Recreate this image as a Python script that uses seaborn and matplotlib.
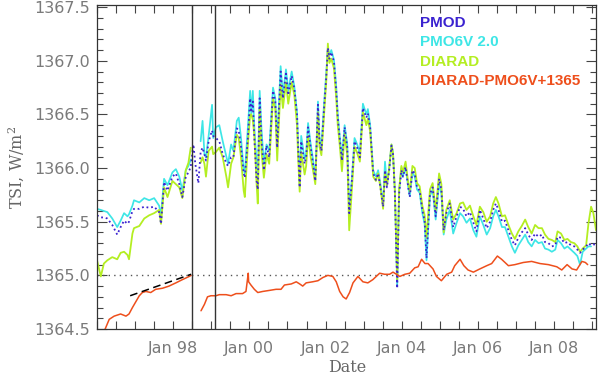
"""TSI composite comparison: PMOD, PMO6V, DIARAD and their difference."""

import matplotlib

matplotlib.use("Agg")
import matplotlib.pyplot as plt
import numpy as np
import pandas as pd
import seaborn as sns
from matplotlib.ticker import FuncFormatter, MultipleLocator

nan = np.nan

# common time grid (decimal years) for the three TSI records
years = [
    1996.00, 1996.10, 1996.18, 1996.27, 1996.40, 1996.53, 1996.62, 1996.71,
    1996.80, 1996.84, 1996.93, 1996.97, 1997.11, 1997.24, 1997.37, 1997.50,
    1997.63, 1997.68, 1997.76, 1997.85, 1997.98, 1998.07, 1998.16, 1998.24,
    1998.33, 1998.40, 1998.46, 1998.53, 1998.58, 1998.62, 1998.66, 1998.72,
    1998.77, 1998.82, 1998.86, 1998.93, 1999.02, 1999.05, 1999.12, 1999.21,
    1999.30, 1999.40, 1999.44, 1999.52, 1999.58, 1999.67, 1999.72, 1999.78,
    1999.85, 1999.88, 1999.96, 2000.02, 2000.05, 2000.09, 2000.13, 2000.19,
    2000.22, 2000.27, 2000.32, 2000.38, 2000.45, 2000.52, 2000.62, 2000.68,
    2000.73, 2000.82, 2000.88, 2000.96, 2001.02, 2001.11, 2001.18, 2001.25,
    2001.28, 2001.32, 2001.36, 2001.45, 2001.49, 2001.54, 2001.61, 2001.67,
    2001.73, 2001.80, 2001.84, 2001.89, 2001.96, 2002.02, 2002.06, 2002.10,
    2002.15, 2002.22, 2002.28, 2002.32, 2002.37, 2002.43, 2002.50, 2002.57,
    2002.62, 2002.69, 2002.76, 2002.83, 2002.90, 2002.98, 2003.07, 2003.11,
    2003.17, 2003.25, 2003.32, 2003.38, 2003.44, 2003.51, 2003.56, 2003.61,
    2003.67, 2003.73, 2003.77, 2003.82, 2003.88, 2003.93, 2003.99, 2004.03,
    2004.10, 2004.17, 2004.21, 2004.28, 2004.34, 2004.40, 2004.47, 2004.54,
    2004.60, 2004.65, 2004.74, 2004.81, 2004.89, 2004.98, 2005.04, 2005.10,
    2005.17, 2005.26, 2005.35, 2005.44, 2005.53, 2005.61, 2005.70, 2005.79,
    2005.88, 2005.96, 2006.05, 2006.14, 2006.23, 2006.32, 2006.40, 2006.47,
    2006.54, 2006.63, 2006.71, 2006.80, 2006.89, 2006.97, 2007.06, 2007.15,
    2007.24, 2007.32, 2007.41, 2007.50, 2007.59, 2007.68, 2007.76, 2007.85,
    2007.94, 2008.03, 2008.09, 2008.18, 2008.27, 2008.35, 2008.44, 2008.53,
    2008.61, 2008.68, 2008.75, 2008.84, 2008.90, 2008.97, 2009.03, 2009.10,
]

pmod = [
    1365.56, 1365.54, 1365.54, 1365.53, 1365.47, 1365.38, 1365.45, 1365.51,
    1365.48, 1365.50, 1365.60, 1365.62, 1365.62, 1365.64, 1365.63, 1365.64,
    1365.59, 1365.48, 1365.87, 1365.79, 1365.92, 1365.95, 1365.85, 1365.73,
    1365.92, 1365.96, 1366.01, 1366.22, 1366.04, 1365.95, 1365.86, 1366.15,
    1366.19, 1366.13, 1366.07, 1366.25, 1366.35, 1366.30, 1366.28, 1366.25,
    1366.13, 1366.04, 1366.02, 1366.10, 1366.10, 1366.37, 1366.35, 1366.20,
    1365.95, 1365.91, 1366.28, 1366.65, 1366.52, 1366.62, 1366.28, 1365.88,
    1365.80, 1366.65, 1366.25, 1365.98, 1366.21, 1366.10, 1366.72, 1366.62,
    1366.19, 1366.90, 1366.65, 1366.88, 1366.68, 1366.86, 1366.74, 1366.50,
    1366.19, 1365.82, 1366.25, 1366.04, 1366.10, 1366.38, 1366.19, 1366.04,
    1365.88, 1366.59, 1366.25, 1366.16, 1366.56, 1366.86, 1367.12, 1367.02,
    1367.08, 1366.99, 1366.72, 1366.47, 1366.28, 1366.07, 1366.38, 1366.19,
    1365.58, 1365.88, 1366.25, 1366.19, 1366.10, 1366.56, 1366.47, 1366.51,
    1366.38, 1365.95, 1365.89, 1365.95, 1365.82, 1365.64, 1365.98, 1365.82,
    1365.98, 1366.21, 1366.13, 1365.76, 1364.88, 1365.76, 1365.98, 1365.92,
    1366.01, 1365.82, 1365.73, 1365.98, 1365.95, 1365.82, 1365.79, 1365.61,
    1365.51, 1365.16, 1365.76, 1365.82, 1365.55, 1365.90, 1365.80, 1365.42,
    1365.58, 1365.67, 1365.45, 1365.55, 1365.64, 1365.62, 1365.55, 1365.59,
    1365.49, 1365.41, 1365.61, 1365.53, 1365.44, 1365.50, 1365.61, 1365.67,
    1365.61, 1365.50, 1365.51, 1365.42, 1365.33, 1365.28, 1365.35, 1365.40,
    1365.44, 1365.38, 1365.33, 1365.39, 1365.36, 1365.38, 1365.31, 1365.30,
    1365.27, 1365.28, 1365.36, 1365.35, 1365.30, 1365.31, 1365.28, 1365.27,
    1365.24, 1365.21, 1365.24, 1365.27, 1365.30, 1365.28, 1365.29, 1365.28,
]

pmo6v = [
    1365.62, 1365.61, 1365.60, 1365.59, 1365.53, 1365.45, 1365.51, 1365.58,
    1365.55, 1365.57, 1365.65, 1365.70, 1365.68, 1365.72, 1365.70, 1365.72,
    1365.65, 1365.56, 1365.90, 1365.84, 1365.96, 1365.99, 1365.92, 1365.79,
    1365.98, 1366.02, 1366.08, nan, nan, nan, nan, 1366.25,
    1366.44, 1366.13, 1366.10, 1366.30, 1366.59, 1366.28, 1366.38, 1366.40,
    1366.25, 1366.10, 1366.04, 1366.22, 1366.16, 1366.44, 1366.47, 1366.28,
    1365.98, 1365.95, 1366.38, 1366.72, 1366.50, 1366.72, 1366.38, 1366.04,
    1365.91, 1366.72, 1366.35, 1366.04, 1366.22, 1366.16, 1366.75, 1366.65,
    1366.25, 1366.95, 1366.68, 1366.92, 1366.72, 1366.90, 1366.76, 1366.52,
    1366.22, 1365.85, 1366.30, 1366.08, 1366.14, 1366.42, 1366.22, 1366.08,
    1365.90, 1366.62, 1366.28, 1366.20, 1366.60, 1366.90, 1367.12, 1367.05,
    1367.10, 1367.01, 1366.76, 1366.50, 1366.30, 1366.10, 1366.40, 1366.22,
    1365.60, 1365.90, 1366.28, 1366.22, 1366.14, 1366.60, 1366.50, 1366.55,
    1366.40, 1365.98, 1365.92, 1365.98, 1365.85, 1365.66, 1366.06, 1365.84,
    1366.00, 1366.22, 1366.14, 1365.78, 1364.90, 1365.78, 1366.00, 1365.92,
    1366.02, 1365.82, 1365.74, 1365.96, 1365.92, 1365.80, 1365.77, 1365.58,
    1365.48, 1365.14, 1365.74, 1365.80, 1365.52, 1365.86, 1365.76, 1365.38,
    1365.52, 1365.61, 1365.39, 1365.49, 1365.58, 1365.55, 1365.49, 1365.53,
    1365.42, 1365.36, 1365.55, 1365.47, 1365.38, 1365.44, 1365.55, 1365.61,
    1365.55, 1365.45, 1365.45, 1365.36, 1365.27, 1365.21, 1365.28, 1365.33,
    1365.38, 1365.31, 1365.27, 1365.33, 1365.30, 1365.31, 1365.25, 1365.24,
    1365.22, 1365.24, 1365.33, 1365.30, 1365.25, 1365.27, 1365.24, 1365.21,
    1365.18, 1365.10, 1365.22, 1365.25, 1365.27, 1365.27, nan, nan,
]

diarad = [
    1365.14, 1364.99, 1365.11, 1365.14, 1365.17, 1365.15, 1365.21, 1365.22,
    1365.19, 1365.15, 1365.39, 1365.44, 1365.46, 1365.53, 1365.56, 1365.58,
    1365.61, 1365.48, 1365.82, 1365.73, 1365.88, 1365.85, 1365.82, 1365.72,
    1365.98, 1366.05, 1366.19, nan, nan, nan, nan, 1366.05,
    1366.10, 1366.04, 1365.92, 1366.16, 1366.20, 1366.13, 1366.15, 1366.19,
    1366.10, 1365.91, 1365.82, 1366.04, 1366.10, 1366.31, 1366.28, 1366.10,
    1365.79, 1365.73, 1366.22, 1366.50, 1366.50, 1366.45, 1366.30, 1365.85,
    1365.67, 1366.55, 1366.15, 1365.91, 1366.13, 1366.04, 1366.65, 1366.55,
    1366.07, 1366.78, 1366.56, 1366.80, 1366.60, 1366.80, 1366.68, 1366.40,
    1366.10, 1365.78, 1366.15, 1365.94, 1366.02, 1366.30, 1366.10, 1365.98,
    1365.85, 1366.52, 1366.20, 1366.12, 1366.50, 1366.82, 1367.16, 1366.98,
    1367.02, 1366.93, 1366.65, 1366.40, 1366.22, 1365.97, 1366.32, 1366.12,
    1365.42, 1365.80, 1366.20, 1366.14, 1366.06, 1366.52, 1366.40, 1366.46,
    1366.34, 1365.92, 1365.88, 1365.95, 1365.82, 1365.62, 1365.96, 1365.84,
    1366.00, 1366.22, 1366.14, 1365.78, 1364.95, 1365.80, 1366.02, 1365.96,
    1366.06, 1365.86, 1365.78, 1366.02, 1366.00, 1365.86, 1365.83, 1365.65,
    1365.56, 1365.35, 1365.80, 1365.86, 1365.60, 1365.95, 1365.85, 1365.40,
    1365.61, 1365.70, 1365.52, 1365.58, 1365.67, 1365.68, 1365.61, 1365.65,
    1365.55, 1365.47, 1365.64, 1365.59, 1365.50, 1365.55, 1365.67, 1365.73,
    1365.67, 1365.55, 1365.56, 1365.47, 1365.39, 1365.34, 1365.41, 1365.46,
    1365.52, 1365.45, 1365.39, 1365.47, 1365.44, 1365.44, 1365.38, 1365.34,
    1365.33, 1365.31, 1365.41, 1365.39, 1365.33, 1365.34, 1365.31, 1365.30,
    1365.27, 1365.22, 1365.25, 1365.28, 1365.48, 1365.64, 1365.58, 1365.42,
]

# DIARAD - PMO6V + 1365
diff_years = [
    1996.19, 1996.32, 1996.45, 1996.62, 1996.76, 1996.84, 1996.93, 1997.11, 1997.19, 1997.28,
    1997.41, 1997.54, 1997.72, 1997.89, 1998.07, 1998.24, 1998.42, 1998.47, 1998.60, 1998.73,
    1998.82, 1998.90, 1998.99, 1999.12, 1999.21, 1999.39, 1999.52, 1999.65, 1999.82, 1999.91,
    1999.97, 1999.98, 2000.04, 2000.13, 2000.22, 2000.35, 2000.53, 2000.70, 2000.83, 2000.92,
    2001.10, 2001.23, 2001.32, 2001.40, 2001.49, 2001.66, 2001.80, 2001.93, 2002.06, 2002.19,
    2002.28, 2002.37, 2002.46, 2002.54, 2002.63, 2002.72, 2002.85, 2002.98, 2003.11, 2003.24,
    2003.42, 2003.55, 2003.68, 2003.77, 2003.86, 2003.95, 2004.08, 2004.21, 2004.34, 2004.43,
    2004.52, 2004.61, 2004.69, 2004.82, 2004.91, 2005.04, 2005.18, 2005.31, 2005.39, 2005.53,
    2005.63, 2005.74, 2005.88, 2006.05, 2006.23, 2006.36, 2006.51, 2006.62, 2006.80, 2006.97,
    2007.19, 2007.41, 2007.63, 2007.85, 2008.07, 2008.20, 2008.34, 2008.47, 2008.59, 2008.73,
    2008.82, 2008.88,
]
diff_vals = [
    1364.48, 1364.59, 1364.62, 1364.64, 1364.62, 1364.64, 1364.70, 1364.81, 1364.84, 1364.85,
    1364.84, 1364.87, 1364.88, 1364.90, 1364.93, 1364.96, 1364.99, 1365.00, nan, 1364.67,
    1364.73, 1364.80, 1364.81, 1364.81, 1364.82, 1364.82, 1364.81, 1364.83, 1364.83, 1364.85,
    1365.02, 1364.94, 1364.91, 1364.87, 1364.84, 1364.85, 1364.86, 1364.87, 1364.87, 1364.91,
    1364.92, 1364.94, 1364.92, 1364.90, 1364.93, 1364.94, 1364.95, 1364.98, 1365.00, 1364.99,
    1364.94, 1364.85, 1364.80, 1364.78, 1364.84, 1364.93, 1364.99, 1364.94, 1364.93, 1364.96,
    1365.02, 1365.01, 1365.01, 1365.03, 1365.01, 1364.99, 1365.01, 1365.02, 1365.07, 1365.08,
    1365.15, 1365.11, 1365.11, 1365.06, 1364.99, 1364.95, 1365.01, 1365.03, 1365.09, 1365.15,
    1365.09, 1365.05, 1365.03, 1365.06, 1365.09, 1365.11, 1365.18, 1365.15, 1365.09, 1365.10,
    1365.12, 1365.13, 1365.11, 1365.10, 1365.08, 1365.05, 1365.10, 1365.06, 1365.05, 1365.13,
    1365.12, 1365.10,
]

# linear trend of the difference before the SOHO vacation
trend_years = [1996.87, 1998.47]
trend_vals = [1364.81, 1365.01]

event_years = [1998.49, 1999.10]
reference_level = 1365.0

tick_years = [1998, 2000, 2002, 2004, 2006, 2008]
tick_names = ["Jan 98", "Jan 00", "Jan 02", "Jan 04", "Jan 06", "Jan 08"]

series_names = ["PMOD", "PMO6V 2.0", "DIARAD", "DIARAD-PMO6V+1365"]
series_colors = ["#3a22d0", "#3ee6e6", "#b4ee22", "#ee4f1c"]

assert len(years) == len(pmod) == len(pmo6v) == len(diarad)
assert len(diff_years) == len(diff_vals)


def to_frame(x, y):
    """Long frame with a segment id so NaN gaps break the line."""
    df = pd.DataFrame({"year": x, "tsi": y})
    df["seg"] = df["tsi"].isna().cumsum()
    return df.dropna()


sns.set_theme(style="ticks")
plt.rcParams["font.family"] = ["DejaVu Sans"]
plt.rcParams["mathtext.fontset"] = "dejavuserif"

fig = plt.figure(figsize=(6.0, 3.76), dpi=100)
ax = fig.add_axes([0.1617, 0.125, 0.8317, 0.8617])

line_kw = dict(x="year", y="tsi", units="seg", estimator=None, ax=ax, legend=False)
sns.lineplot(data=to_frame(years, pmo6v), color=series_colors[1], lw=1.25, **line_kw)
sns.lineplot(data=to_frame(years, diarad), color=series_colors[2], lw=1.3, **line_kw)
sns.lineplot(data=to_frame(years, pmod), color=series_colors[0], lw=1.3,
             linestyle=(0, (1, 1.6)), **line_kw)
sns.lineplot(data=to_frame(diff_years, diff_vals), color=series_colors[3], lw=1.1, **line_kw)
sns.lineplot(x=trend_years, y=trend_vals, color="black", lw=1.1,
             linestyle=(0, (5, 3)), ax=ax)

ax.axhline(reference_level, color="#555555", lw=1.0, linestyle=(0, (1, 3)), zorder=1)
for yr in event_years:
    ax.axvline(yr, color="#333333", lw=1.0)

ax.set_xlim(1996.0, 2009.1)
ax.set_ylim(1364.5, 1367.52)

label_map = dict(zip(tick_years, tick_names))
ax.xaxis.set_major_locator(MultipleLocator(0.5))
ax.xaxis.set_major_formatter(FuncFormatter(lambda v, p: label_map.get(round(v, 1), "")))
ax.yaxis.set_major_locator(MultipleLocator(0.5))
ax.yaxis.set_minor_locator(MultipleLocator(0.1))
ax.yaxis.set_major_formatter(FuncFormatter(lambda v, p: f"{v:.1f}"))

ax.tick_params(which="both", direction="in", top=True, right=True,
               color="#444444", labelcolor="#7a7a7a", labelsize=11.5)
ax.tick_params(axis="x", which="major", length=6, width=0.8, pad=9)
ax.tick_params(axis="y", which="major", length=7, width=0.8, pad=5)
ax.tick_params(axis="y", which="minor", length=4, width=0.8)
for spine in ax.spines.values():
    spine.set_color("#333333")
    spine.set_linewidth(0.9)

ax.set_xlabel("")
ax.set_ylabel("")
fig.text(0.578, 0.022, "Date", family="DejaVu Serif", size=11.5,
         color="#666666", ha="center", va="center")
fig.text(0.028, 0.556, "TSI, W/m$^2$", family="DejaVu Serif", size=11.5,
         color="#666666", ha="center", va="center", rotation=90)

for i, (name, col) in enumerate(zip(series_names, series_colors)):
    ax.text(0.647, 0.945 - i * 0.06, name, transform=ax.transAxes, color=col,
            family="Liberation Sans", fontweight="bold", size=11, va="center")

fig.savefig("out.png", dpi=100)
